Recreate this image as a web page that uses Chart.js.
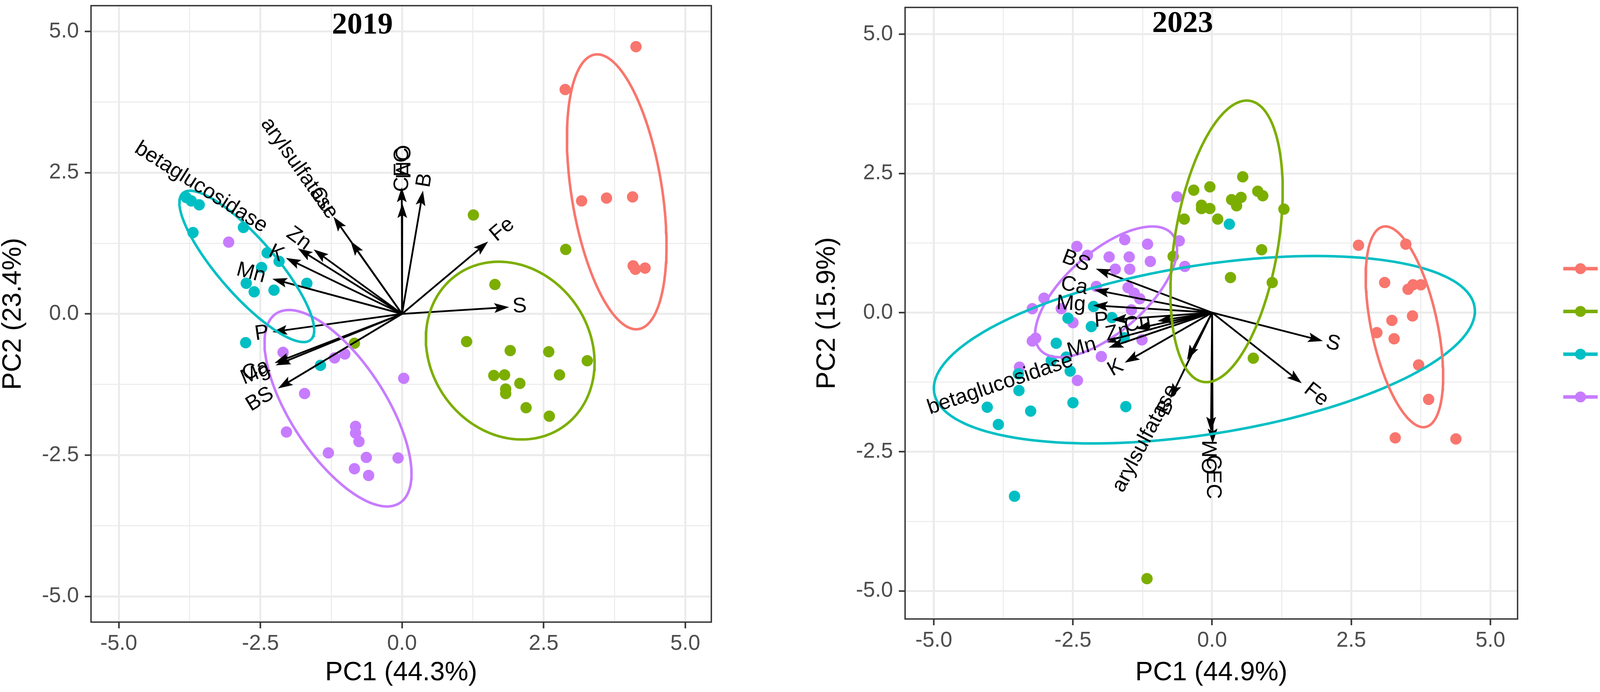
<!DOCTYPE html>
<html>
<head>
<meta charset="utf-8">
<script src="https://cdn.jsdelivr.net/npm/chart.js@4.4.1/dist/chart.umd.min.js"></script>
<style>
  html, body { margin: 0; padding: 0; background: #ffffff; }
  #wrap { position: relative; width: 4274px; height: 1772px; overflow: hidden; background: #ffffff; }
  canvas { position: absolute; top: 0; }
</style>
</head>
<body>
<div id="wrap">
  <canvas id="pca2019" width="2060" height="1772" style="left:0px;width:2060px;height:1772px"></canvas>
  <canvas id="pca2023" width="2214" height="1772" style="left:2060px;width:2214px;height:1772px"></canvas>
</div>
<script>
// groups and colours (ggplot hue palette)
const groups = ["Cer", "Conv", "ICL", "ICLF"];
const groupColors = ["#F8766D", "#7CAE00", "#00BFC4", "#C77CFF"];

const majorTicks = [-5, -2.5, 0, 2.5, 5];
const minorTicks = [-3.75, -1.25, 1.25, 3.75];

// ---- 2019 scores (PC1, PC2) ----
const cer2019 = [[4.13,4.73],[2.88,3.97],[3.17,2.00],[3.61,2.05],[4.07,2.07],[4.08,0.85],[4.12,0.79],[4.29,0.81]];
const conv2019 = [[1.26,1.75],[2.89,1.14],[1.64,0.52],[1.14,-0.49],[1.91,-0.65],[2.59,-0.67],[3.27,-0.83],[1.62,-1.09],
  [1.81,-1.08],[1.83,-1.33],[1.83,-1.41],[2.08,-1.23],[2.78,-1.08],[2.19,-1.66],[2.60,-1.81],[-0.84,-0.52]];
const icl2019 = [[-3.81,2.06],[-3.72,2.00],[-3.58,1.93],[-3.69,1.44],[-2.80,1.53],[-2.38,1.08],[-2.17,0.93],[-2.48,0.82],
  [-2.75,0.54],[-2.61,0.39],[-2.26,0.42],[-1.68,0.54],[-2.76,-0.51],[-1.44,-0.91]];
const iclf2019 = [[-3.06,1.27],[-2.10,-0.68],[-1.19,-0.78],[-1.01,-0.71],[0.03,-1.14],[-1.72,-1.41],[-2.04,-2.09],[-0.82,-1.99],
  [-0.82,-2.11],[-0.76,-2.26],[-1.30,-2.46],[-0.63,-2.54],[-0.07,-2.55],[-0.84,-2.74],[-0.59,-2.86]];

// ---- 2019 loadings (arrow tips) ----
const loadings2019 = [["S",1.89,0.12],["Fe",1.52,1.28],["B",0.37,2.18],["CEC",0.005,1.96],["OM",-0.005,2.24],
  ["Cu",-1.21,1.72],["arylsulfatase",-0.91,1.29],["Zn",-1.56,1.14],["betaglucosidase",-1.84,1.16],["K",-2.05,0.99],
  ["Mn",-2.29,0.62],["P",-2.29,-0.32],["Ca",-2.25,-0.87],["Mg",-2.23,-0.91],["BS",-2.19,-1.32]];

// ---- 2019 ellipses: group, centre x, centre y, semi-major, semi-minor, angle (deg) ----
const ellipses2019 = [["Cer",3.79,2.16,2.46,0.80,-81],["Conv",1.91,-0.65,1.64,1.415,-56],
  ["ICL",-2.74,0.84,1.72,0.50,-49],["ICLF",-1.13,-1.67,2.00,0.84,-57]];

// ---- 2023 scores ----
const cer2023 = [[2.63,1.21],[3.48,1.23],[3.10,0.54],[3.52,0.42],[3.61,0.50],[3.75,0.50],[3.23,-0.14],[3.60,-0.06],
  [2.96,-0.36],[3.27,-0.47],[3.71,-0.94],[3.89,-1.56],[3.29,-2.25],[4.38,-2.27]];
const conv2023 = [[0.55,2.44],[-0.33,2.20],[-0.04,2.26],[0.82,2.18],[0.91,2.10],[0.35,2.03],[0.52,2.07],[0.44,1.92],
  [-0.19,1.93],[-0.04,1.87],[-0.19,1.87],[1.29,1.86],[-0.50,1.68],[0.10,1.68],[0.89,1.13],[-0.70,1.01],[0.33,0.63],
  [1.08,0.54],[0.74,-0.82],[-1.17,-4.78]];
const icl2023 = [[0.31,1.59],[-2.13,0.11],[-1.80,-0.09],[-2.59,-0.10],[-2.17,-0.25],[-2.80,-0.55],[-2.89,-0.86],[-2.62,-0.80],
  [-2.55,-1.05],[-3.48,-1.10],[-3.47,-1.40],[-1.58,-0.45],[-4.04,-1.70],[-3.26,-1.77],[-2.50,-1.62],[-1.55,-1.69],
  [-3.84,-2.01],[-3.55,-3.30]];
const iclf2023 = [[-0.63,2.08],[-2.43,1.19],[-1.57,1.31],[-1.16,1.23],[-0.59,1.29],[-2.24,1.03],[-1.85,1.00],[-1.49,1.00],
  [-1.11,0.92],[-0.49,0.83],[-1.74,0.78],[-1.48,0.78],[-2.08,0.47],[-1.51,0.45],[-1.40,0.35],[-1.30,0.25],[-3.02,0.26],
  [-3.23,0.07],[-2.71,0.07],[-2.50,-0.18],[-1.45,0.05],[-3.17,-0.46],[-3.23,-0.51],[-1.26,-0.49],[-1.99,-0.79],
  [-3.46,-0.98],[-2.42,-1.22]];

const loadings2023 = [["S",1.99,-0.51],["Fe",1.61,-1.27],["BS",-2.09,0.79],["Ca",-2.12,0.41],["Mg",-2.14,0.13],
  ["P",-1.80,-0.13],["Cu",-0.98,-0.15],["Zn",-1.37,-0.29],["Mn",-1.96,-0.53],["betaglucosidase",-1.86,-0.63],
  ["K",-1.57,-0.90],["arylsulfatase",-0.45,-0.85],["B",-0.75,-1.54],["OM",-0.02,-2.14],["CEC",0.01,-2.35]];

const ellipses2023 = [["Cer",3.455,-0.255,1.84,0.594,-78],["Conv",0.26,1.28,2.56,0.93,80.6],
  ["ICL",-0.139,-0.667,4.915,1.517,9.0],["ICLF",-1.905,0.373,1.577,0.72,41.4]];

const panelTitles = ["2019", "2023"];
const axisTitles2019 = ["PC1 (44.3%)", "PC2 (23.4%)"];
const axisTitles2023 = ["PC1 (44.9%)", "PC2 (15.9%)"];

const SANS = '"Liberation Sans", Arial, sans-serif';
const SERIF = '"Liberation Serif", "Times New Roman", serif';

function isMajor(v) {
  return Math.abs(v / 2.5 - Math.round(v / 2.5)) < 1e-9;
}

function ellipsePath(e) {
  const cx = e[1], cy = e[2], a = e[3], b = e[4];
  const t = e[5] * Math.PI / 180;
  const pts = [];
  for (let i = 0; i <= 160; i++) {
    const s = 2 * Math.PI * i / 160;
    const u = a * Math.cos(s), v = b * Math.sin(s);
    pts.push({ x: cx + u * Math.cos(t) - v * Math.sin(t), y: cy + u * Math.sin(t) + v * Math.cos(t) });
  }
  return pts;
}

function drawArrows(chart, loadings) {
  const ctx = chart.ctx, xs = chart.scales.x, ys = chart.scales.y;
  const ox = xs.getPixelForValue(0), oy = ys.getPixelForValue(0);
  ctx.save();
  ctx.strokeStyle = "#000";
  ctx.fillStyle = "#000";
  ctx.lineWidth = 4.5;
  for (const [name, x, y] of loadings) {
    const px = xs.getPixelForValue(x), py = ys.getPixelForValue(y);
    const dx = px - ox, dy = py - oy;
    const len = Math.hypot(dx, dy);
    const ux = dx / len, uy = dy / len;
    const head = 38, hw = 12.5;
    ctx.beginPath();
    ctx.moveTo(ox, oy);
    ctx.lineTo(px - ux * head * 0.7, py - uy * head * 0.7);
    ctx.stroke();
    const bx = px - ux * head, by = py - uy * head;
    ctx.beginPath();
    ctx.moveTo(px, py);
    ctx.lineTo(bx - uy * hw, by + ux * hw);
    ctx.lineTo(px - ux * head * 0.8, py - uy * head * 0.8);
    ctx.lineTo(bx + uy * hw, by - ux * hw);
    ctx.closePath();
    ctx.fill();
  }
  ctx.restore();
}

function drawLoadingLabels(chart, loadings) {
  const ctx = chart.ctx, xs = chart.scales.x, ys = chart.scales.y;
  ctx.save();
  ctx.fillStyle = "#000";
  ctx.font = "54px " + SANS;
  ctx.textBaseline = "middle";
  ctx.textAlign = "left";
  for (const [name, x, y] of loadings) {
    const px = xs.getPixelForValue(x), py = ys.getPixelForValue(y);
    const angle = Math.atan(y / x);
    const hjust = (1 - 1.5 * Math.sign(x)) / 2;
    const w = ctx.measureText(name).width;
    ctx.save();
    ctx.translate(px, py);
    ctx.rotate(-angle);
    ctx.fillText(name, -hjust * w, 0);
    ctx.restore();
  }
  ctx.restore();
}

function makeBiplotPlugin(cfg) {
  return {
    id: "biplot",
    beforeDatasetsDraw(chart) {
      chart.$arrowsDone = false;
    },
    beforeDatasetDraw(chart, args) {
      const ds = chart.data.datasets[args.index];
      if (ds.kind === "ellipse" && !chart.$arrowsDone) {
        drawArrows(chart, cfg.loadings);
        chart.$arrowsDone = true;
      }
    },
    afterDatasetsDraw(chart) {
      if (!chart.$arrowsDone) drawArrows(chart, cfg.loadings);
      drawLoadingLabels(chart, cfg.loadings);
      const ctx = chart.ctx, xs = chart.scales.x, ys = chart.scales.y;
      const a = chart.chartArea;
      // panel title inside the plot
      ctx.save();
      ctx.fillStyle = "#000";
      ctx.font = "bold 78px " + SERIF;
      ctx.textAlign = "center";
      ctx.textBaseline = "middle";
      ctx.fillText(cfg.title, xs.getPixelForValue(cfg.titleAt[0]), ys.getPixelForValue(cfg.titleAt[1]));
      // panel border
      ctx.strokeStyle = "#333333";
      ctx.lineWidth = 3.5;
      ctx.strokeRect(a.left, a.top, a.right - a.left, a.bottom - a.top);
      ctx.restore();
      if (cfg.legend) {
        const L = cfg.legend;
        ctx.save();
        ctx.font = "55px " + SANS;
        ctx.textBaseline = "middle";
        ctx.textAlign = "left";
        groups.forEach((g, i) => {
          const y = L.y0 + i * L.dy;
          ctx.strokeStyle = groupColors[i];
          ctx.lineWidth = 9;
          ctx.beginPath();
          ctx.moveTo(L.x, y);
          ctx.lineTo(L.x + 88, y);
          ctx.stroke();
          ctx.fillStyle = groupColors[i];
          ctx.beginPath();
          ctx.arc(L.x + 44, y, 14, 0, 2 * Math.PI);
          ctx.fill();
          ctx.fillStyle = "#000";
          ctx.fillText(g, L.x + 136, y + 2);
        });
        ctx.restore();
      }
    }
  };
}

function axisOptions(range, titleText, forcedSize, horizontal, titlePad) {
  const allTicks = majorTicks.concat(minorTicks).sort((p, q) => p - q);
  return {
    type: "linear",
    min: range[0],
    max: range[1],
    afterBuildTicks: (s) => { s.ticks = allTicks.map((v) => ({ value: v })); },
    afterFit: (s) => {
      if (horizontal) s.height = forcedSize; else s.width = forcedSize;
      s.paddingTop = 0; s.paddingBottom = 0; s.paddingLeft = 0; s.paddingRight = 0;
    },
    border: { display: false },
    grid: {
      color: "#EBEBEB",
      lineWidth: (c) => (c.tick && isMajor(c.tick.value) ? 5 : 2.6),
      drawTicks: true,
      tickLength: 16,
      tickWidth: 4,
      tickColor: (c) => (c.tick && isMajor(c.tick.value) ? "#333333" : "rgba(0,0,0,0)")
    },
    ticks: {
      autoSkip: false,
      maxRotation: 0,
      minRotation: 0,
      padding: horizontal ? 7 : 15,
      color: "#4D4D4D",
      font: { family: SANS, size: 55 },
      callback: (v) => (isMajor(v) ? Number(v).toFixed(1) : "")
    },
    title: {
      display: true,
      text: titleText,
      color: "#000",
      font: { family: SANS, size: 68, lineHeight: 1 },
      padding: titlePad
    }
  };
}

function buildChart(canvasId, pts, ellipses, loadings, cfg) {
  const datasets = [];
  groups.forEach((g, i) => {
    datasets.push({
      label: g,
      kind: "points",
      data: pts[i].map((p) => ({ x: p[0], y: p[1] })),
      backgroundColor: groupColors[i],
      borderWidth: 0,
      pointRadius: 14.5,
      pointHoverRadius: 14.5,
      order: 3
    });
  });
  ellipses.forEach((e) => {
    const gi = groups.indexOf(e[0]);
    datasets.push({
      label: e[0] + " ellipse",
      kind: "ellipse",
      data: ellipsePath(e),
      showLine: true,
      borderColor: groupColors[gi],
      borderWidth: 6.5,
      pointRadius: 0,
      pointHoverRadius: 0,
      fill: false,
      tension: 0,
      order: 1
    });
  });

  return new Chart(document.getElementById(canvasId), {
    type: "scatter",
    data: { datasets },
    options: {
      responsive: false,
      animation: false,
      devicePixelRatio: 1,
      layout: { padding: cfg.padding },
      plugins: { legend: { display: false }, tooltip: { enabled: false } },
      scales: {
        x: axisOptions(cfg.xRange, cfg.axisTitles[0], cfg.xAxisHeight, true, { top: 0, bottom: 15 }),
        y: axisOptions(cfg.yRange, cfg.axisTitles[1], cfg.yAxisWidth, false, { top: cfg.yTitlePad, bottom: 0 })
      }
    },
    plugins: [makeBiplotPlugin({ loadings, title: cfg.title, titleAt: cfg.titleAt, legend: cfg.legend })]
  });
}

buildChart("pca2019", [cer2019, conv2019, icl2019, iclf2019], ellipses2019, loadings2019, {
  padding: { left: 0, top: 11, right: 239, bottom: 0 },
  xRange: [-5.49, 5.46],
  yRange: [-5.455, 5.455],
  xAxisHeight: 179,
  yAxisWidth: 233,
  yTitlePad: 0,
  axisTitles: axisTitles2019,
  title: panelTitles[0],
  titleAt: [-0.70, 5.10],
  legend: null
});

buildChart("pca2023", [cer2023, conv2023, icl2023, iclf2023], ellipses2023, loadings2023, {
  padding: { left: 0, top: 19, right: 389, bottom: 0 },
  xRange: [-5.516, 5.488],
  yRange: [-5.505, 5.484],
  xAxisHeight: 187,
  yAxisWidth: 257,
  yTitlePad: 24,
  axisTitles: axisTitles2023,
  title: panelTitles[1],
  titleAt: [-0.53, 5.18],
  legend: { x: 1942, y0: 688, dy: 109.5 }
});
</script>
</body>
</html>
